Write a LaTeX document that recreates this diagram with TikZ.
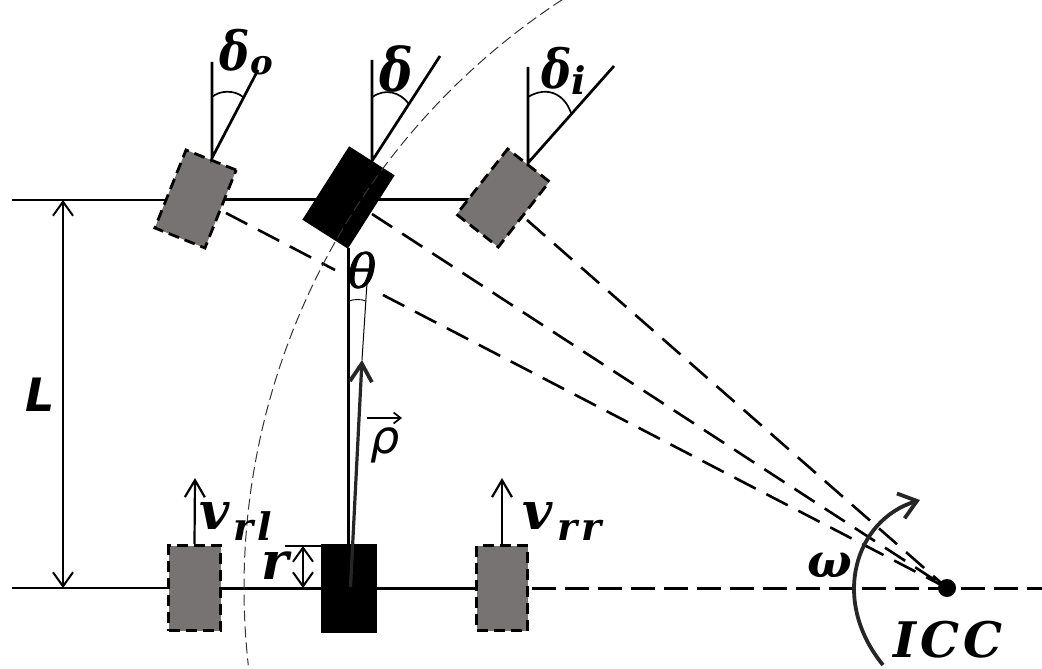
\documentclass[tikz,border=0pt]{standalone}
\usepackage{fontspec}
\setmainfont{DejaVu Serif}
\setsansfont{DejaVu Sans}
\newfontfamily\thetafont{DejaVu Serif}[ItalicFeatures={FakeBold=1.6}]
\usetikzlibrary{arrows.meta}
\definecolor{wheelgrey}{HTML}{777372}
\definecolor{darkarrow}{HTML}{262626}
\tikzset{
  wheelbox/.style={draw=black,fill=wheelgrey,line width=2.8pt,dash pattern=on 11pt off 6pt,inner sep=0pt,anchor=center},
  hubbox/.style={fill=black,inner sep=0pt,anchor=center},
  axlethin/.style={draw=black,line width=2pt},
  axle/.style={draw=black,line width=3pt},
  steer/.style={draw=black,line width=2.7pt},
  anglearc/.style={draw=black,line width=1.7pt},
  longdash/.style={draw=black,line width=3pt,dash pattern=on 24pt off 9pt},
  raydash/.style={draw=black,line width=2.6pt,dash pattern=on 24pt off 12pt},
  pathdash/.style={draw=black!80,line width=1pt,dash pattern=on 11pt off 5pt},
  dimarrow/.style={draw=black,line width=2pt,{Straight Barb[length=14pt,width=20pt]}-{Straight Barb[length=14pt,width=20pt]}},
  uparrow/.style={draw=black,line width=2.2pt,-{Straight Barb[length=17pt,width=20pt]}},
  bigsym/.style={font=\fontsize{52}{52}\selectfont\bfseries\itshape,inner sep=0pt,anchor=center},
  subsym/.style={font=\fontsize{38}{38}\selectfont\bfseries\itshape,inner sep=0pt,anchor=center},
  deltasym/.style={bigsym,font=\fontsize{54}{54}\selectfont\bfseries\itshape,xscale=.84},
}
\begin{document}
\begin{tikzpicture}[x=1pt,y=-1pt]
\useasboundingbox (0,0) rectangle (1042,669);
% named points
\node[circle,fill=black,minimum size=18pt,inner sep=0pt] (icc) at (947,588) {};
\coordinate (tl) at (12,199.5);
\coordinate (tr) at (470,199.5);
\coordinate (bl) at (12,588);
\coordinate (br) at (476,588);
\coordinate (de) at (1042,588);
\coordinate (ds) at (532,588);
\coordinate (lt) at (63,200);
\coordinate (lb) at (63,588);
\coordinate (tfront) at (348.5,248);
\coordinate (trear) at (348.5,545);
% rays
\coordinate (r1a) at (226,213);
\coordinate (r1b) at (335,270);
\coordinate (r1c) at (383,295);
\coordinate (r2) at (372,214);
\coordinate (r3) at (527,220);
% axles
\draw[axlethin] (tl) -- (195,199.5);
\draw[axle] (195,199.5) -- (tr);
\draw[axlethin] (bl) -- (195,588);
\draw[axle] (195,588) -- (br);
\draw[longdash] (ds) -- (de);
\draw[axle] (tfront) -- (trear);
\draw[raydash] (r1a) -- (r1b);
\draw[raydash] (r1c) -- (icc.center);
\draw[raydash] (r2) -- (icc.center);
\draw[raydash] (r3) -- (icc.center);
% wheels
\node[wheelbox,minimum width=54pt,minimum height=84pt,rotate=-21.8] (wo) at (195.5,199) {};
\node[hubbox,minimum width=54pt,minimum height=87pt,rotate=-32.5] (wc) at (348.5,197.5) {};
\node[wheelbox,minimum width=53pt,minimum height=83pt,rotate=-38] (wi) at (503,198) {};
\node[wheelbox,minimum width=52pt,minimum height=85pt] (wrl) at (194.5,588) {};
\node[hubbox,minimum width=56pt,minimum height=89pt] (wrc) at (349,588.5) {};
\node[wheelbox,minimum width=51pt,minimum height=85pt] (wrr) at (502,588) {};
% steering
\coordinate (so) at (212,158);
\coordinate (sot) at (212,62);
\coordinate (soe) at (258,70);
\coordinate (sc) at (372,161);
\coordinate (sct) at (372,60);
\coordinate (sce) at (440,56);
\coordinate (si) at (528,163);
\coordinate (sit) at (528,67);
\coordinate (sie) at (614,66);
\draw[steer] (sot) -- (so) -- (soe);
\draw[steer] (sct) -- (sc) -- (sce);
\draw[steer] (sit) -- (si) -- (sie);
\draw[anglearc] (212,97) .. controls (220,90) and (235,90) .. (243,97);
\draw[anglearc] (372.5,97) .. controls (385,88) and (400,92) .. (409,104);
\draw[anglearc] (528,97) .. controls (548,85) and (565,95) .. (571,113);
% dimension arrows
\draw[dimarrow] (lt) -- (lb);
\coordinate (rt) at (303,546);
\coordinate (rb) at (303,588);
\coordinate (rl) at (285,546);
\draw[line width=1.8pt] (rl) -- (wrc.north west |- rl);
\draw[dimarrow] (rt) -- (rb);
\coordinate (vl) at (195,478);
\coordinate (vr) at (502,478);
\draw[uparrow] (wrl.north) -- (vl);
\draw[uparrow] (wrr.north) -- (vr);
% path arc
\draw[pathdash] (icc.center) ++(236.85:703) arc[start angle=236.85,end angle=173.7,radius=703];
% rho, theta
\coordinate (rhos) at (350.5,587);
\coordinate (rhoe) at (362,360);
\coordinate (thetae) at (367,283);
\draw[line width=1pt] (rhoe) -- (thetae);
\draw[draw=darkarrow,line width=3.2pt,-{Straight Barb[length=18pt,width=22pt,line width=3.8pt]}] (rhos) -- (rhoe);
\draw[line width=.9pt] (349,301) .. controls (354,299) and (361,299) .. (366,301);
% omega arrow
\coordinate (oms) at (883,665);
\coordinate (ome) at (920,500);
\draw[draw=darkarrow,line width=3.8pt,-{Straight Barb[length=17pt,width=26pt]}] (oms) .. controls (830,600) and (855,520) .. (ome);
% labels
\node[deltasym] (ldo) at (234.5,50) {δ};
\node[subsym,font=\fontsize{34}{34}\selectfont\bfseries\itshape] (lo) at (262,66) {o};
\node[deltasym,font=\fontsize{60}{60}\selectfont\bfseries\itshape] (ld) at (396,69) {δ};
\node[deltasym] (ldi) at (557,68) {δ};
\node[subsym] (li) at (579,80) {i};
\node[font=\fontsize{47}{47}\thetafont\itshape,inner sep=0pt] (lth) at (362,270) {θ};
\node[font=\fontsize{46}{46}\selectfont\sffamily\bfseries\itshape,inner sep=0pt] (lL) at (40,395) {L};
\node[font=\fontsize{46}{46}\selectfont\sffamily\itshape,inner sep=0pt] (lrho) at (385,445) {ρ};
\coordinate (oa) at (367,418);
\coordinate (ob) at (402,418);
\draw[line width=1.7pt,-{Straight Barb[length=7pt,width=11pt]}] (oa) -- (ob);
\node[bigsym] (lv1) at (215,516) {v};
\node[subsym] (lv1r) at (244,530) {r};
\node[subsym] (lv1l) at (265,526) {l};
\node[bigsym] (lv2) at (538,516) {v};
\node[subsym] (lv2r) at (568,530) {r};
\node[subsym] (lv2s) at (592,530) {r};
\node[bigsym] (lr) at (275,566) {r};
\node[bigsym,font=\fontsize{47}{47}\selectfont\bfseries\itshape] (lw) at (830,565) {ω};
\node[bigsym,font=\fontsize{49}{49}\selectfont\bfseries\itshape] (licc) at (948,640) {I\kern4pt C\kern4pt C};
\end{tikzpicture}
\end{document}
